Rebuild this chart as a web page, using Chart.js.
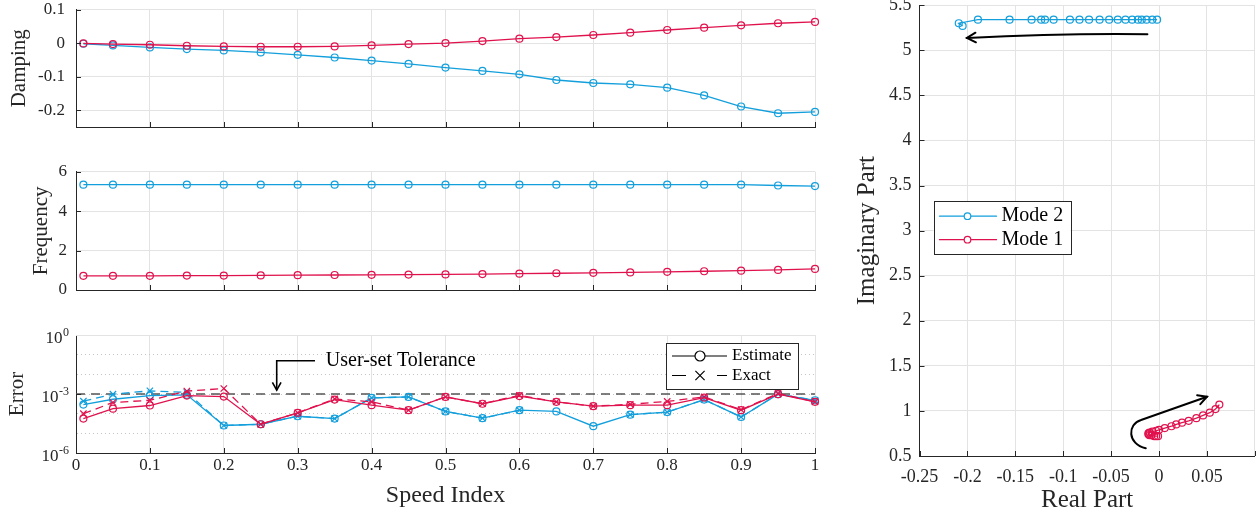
<!DOCTYPE html>
<html><head><meta charset="utf-8">
<script src="https://cdn.jsdelivr.net/npm/chart.js@4.4.1/dist/chart.umd.min.js"></script>
<style>
html,body{margin:0;padding:0;background:#fff;}
body{width:1260px;height:516px;position:relative;overflow:hidden;}
canvas{position:absolute;}
</style></head><body>
<canvas id="cDamp" width="840" height="140" style="left:0;top:0"></canvas>
<canvas id="cFreq" width="840" height="160" style="left:0;top:140px"></canvas>
<canvas id="cErr" width="840" height="216" style="left:0;top:300px"></canvas>
<canvas id="cRoot" width="420" height="516" style="left:840px;top:0"></canvas>
<script>
// ---------------- DATA ----------------
const SPEED = [0.01,0.05,0.10,0.15,0.20,0.25,0.30,0.35,0.40,0.45,0.50,0.55,0.60,0.65,0.70,0.75,0.80,0.85,0.90,0.95,1.00];
const MODE1_DAMPING = [-0.001,-0.003,-0.005,-0.008,-0.010,-0.011,-0.011,-0.010,-0.007,-0.003,0.000,0.006,0.013,0.018,0.024,0.031,0.039,0.046,0.053,0.059,0.063];
const MODE2_DAMPING = [-0.002,-0.007,-0.013,-0.018,-0.022,-0.028,-0.035,-0.043,-0.052,-0.062,-0.073,-0.083,-0.093,-0.110,-0.119,-0.123,-0.133,-0.156,-0.189,-0.209,-0.205];
const MODE1_FREQ = [0.72,0.72,0.72,0.73,0.73,0.74,0.75,0.76,0.77,0.78,0.79,0.81,0.83,0.85,0.87,0.89,0.92,0.95,0.98,1.02,1.07];
const MODE2_FREQ = [5.34,5.34,5.34,5.34,5.34,5.34,5.34,5.34,5.34,5.34,5.34,5.34,5.34,5.34,5.34,5.34,5.34,5.34,5.34,5.30,5.27];
const MODE1_ERR_EST   = [5.6e-5,1.8e-4,2.6e-4,8.3e-4,7.4e-4,2.9e-5,1.1e-4,5.2e-4,2.7e-4,1.5e-4,7.1e-4,3.2e-4,7.8e-4,4.0e-4,2.4e-4,2.7e-4,2.7e-4,6.6e-4,1.5e-4,9.8e-4,4.0e-4];
const MODE1_ERR_EXACT = [1.0e-4,3.7e-4,4.8e-4,1.4e-3,1.9e-3,2.9e-5,1.1e-4,5.6e-4,4.0e-4,1.5e-4,7.1e-4,3.2e-4,8.5e-4,4.0e-4,2.4e-4,3.0e-4,4.2e-4,7.1e-4,1.6e-4,1.07e-3,4.0e-4];
const MODE2_ERR_EST   = [2.9e-4,5.4e-4,8.3e-4,9.1e-4,2.5e-5,2.9e-5,7.4e-5,5.6e-5,6.3e-4,7.1e-4,1.3e-4,5.9e-5,1.5e-4,1.3e-4,2.3e-5,8.9e-5,1.2e-4,5.2e-4,6.8e-5,9.8e-4,4.8e-4];
const MODE2_ERR_EXACT = [4.3e-4,9.8e-4,1.45e-3,1.2e-3,2.5e-5,2.9e-5,7.4e-5,5.6e-5,6.3e-4,7.1e-4,1.3e-4,5.9e-5,1.5e-4,null,null,8.9e-5,1.2e-4,5.2e-4,6.8e-5,9.8e-4,4.8e-4];
const TOLERANCE = 1e-3;

const SPEED_TICKS = [0,0.1,0.2,0.3,0.4,0.5,0.6,0.7,0.8,0.9,1];
const SPEED_TICK_LABELS = ['0','0.1','0.2','0.3','0.4','0.5','0.6','0.7','0.8','0.9','1'];
const DAMPING_TICKS = [-0.2,-0.1,0,0.1];
const DAMPING_TICK_LABELS = ['-0.2','-0.1','0','0.1'];
const FREQ_TICKS = [0,2,4,6];
const FREQ_TICK_LABELS = ['0','2','4','6'];
const ERROR_TICKS = [1e-6,1e-5,1e-4,1e-3,1e-2,1e-1,1];
const ERROR_TICK_LABELS = ['10^-6','','','10^-3','','','10^0'];
const ERROR_MAJOR = [1e-6,1e-3,1];
const REAL_TICKS = [-0.25,-0.2,-0.15,-0.1,-0.05,0,0.05,0.1];
const REAL_TICK_LABELS = ['-0.25','-0.2','-0.15','-0.1','-0.05','0','0.05',''];
const IMAG_TICKS = [0.5,1,1.5,2,2.5,3,3.5,4,4.5,5,5.5];
const IMAG_TICK_LABELS = ['0.5','1','1.5','2','2.5','3','3.5','4','4.5','5','5.5'];

// ---------------- STYLE ----------------
const FONT = "'Liberation Serif', 'Times New Roman', serif";
const INK = '#262626';
const GRID = '#e3e3e3';
const DOT = '#c4c4c4';
const BLUE = '#139fdc';
const RED = '#e0124d';
Chart.defaults.font.family = FONT;
Chart.defaults.color = INK;
Chart.defaults.animation = false;

const pts = (xs, ys) => xs.map((x, i) => ({x, y: ys[i]}));
const tickSetter = vals => s => { s.ticks = vals.map(v => ({value: v})); };
const sizeSetter = n => s => {
  if (s.isHorizontal()) s.height = n; else s.width = n;
  s.paddingTop = 0; s.paddingBottom = 0; s.paddingLeft = 0; s.paddingRight = 0;
};
const labelFrom = labels => (v, i) => labels[i] ?? '';

function modeLine(data, color) {
  return {data, borderColor: color, borderWidth: 1.3, pointStyle: 'circle', pointRadius: 3.5,
    pointBorderWidth: 1.2, pointBorderColor: color, pointBackgroundColor: 'rgba(0,0,0,0)',
    tension: 0, clip: false, fill: false};
}

const inwardTicks = {
  id: 'inwardTicks',
  afterDraw(chart, args, opts) {
    const {ctx, chartArea: a, scales} = chart;
    const L = 5;
    ctx.save(); ctx.strokeStyle = INK; ctx.lineWidth = 1;
    ctx.beginPath();
    scales.x.ticks.forEach(t => {
      const p = Math.round(scales.x.getPixelForValue(t.value)) + 0.5;
      ctx.moveTo(p, a.bottom); ctx.lineTo(p, a.bottom - L);
    });
    scales.y.ticks.forEach(t => {
      if (opts.yMajor && !opts.yMajor.includes(t.value)) return;
      const p = Math.round(scales.y.getPixelForValue(t.value)) + 0.5;
      ctx.moveTo(a.left, p); ctx.lineTo(a.left + L, p);
    });
    ctx.stroke(); ctx.restore();
  }
};

function arrowHead(ctx, x, y, ang, size) {
  ctx.beginPath();
  ctx.moveTo(x - size * Math.cos(ang - 0.5), y - size * Math.sin(ang - 0.5));
  ctx.lineTo(x, y);
  ctx.lineTo(x - size * Math.cos(ang + 0.5), y - size * Math.sin(ang + 0.5));
  ctx.stroke();
}
function drawMarker(ctx, kind, x, y, r, color) {
  ctx.save(); ctx.strokeStyle = color; ctx.lineWidth = 1.2; ctx.beginPath();
  if (kind === 'circle') { ctx.arc(x, y, r, 0, Math.PI * 2); }
  else { const d = r * 0.7071; ctx.moveTo(x - d, y - d); ctx.lineTo(x + d, y + d); ctx.moveTo(x + d, y - d); ctx.lineTo(x - d, y + d); }
  ctx.stroke(); ctx.restore();
}

const baseScaleX = (height, showLabels) => ({
  type: 'linear', min: 0, max: 1, afterBuildTicks: tickSetter(SPEED_TICKS), afterFit: sizeSetter(height),
  ticks: {display: showLabels, callback: labelFrom(SPEED_TICK_LABELS), padding: 2, color: INK, font: {size: 17}, maxRotation: 0, autoSkip: false},
  grid: {color: GRID, drawTicks: false, lineWidth: 1}, border: {color: INK, width: 1}
});

// ---------------- DAMPING ----------------
new Chart(document.getElementById('cDamp'), {
  type: 'line',
  data: {datasets: [modeLine(pts(SPEED, MODE1_DAMPING), RED), modeLine(pts(SPEED, MODE2_DAMPING), BLUE)]},
  options: {
    responsive: false, events: [],
    layout: {padding: {left: 0, right: 25, top: 9.5, bottom: 0}},
    plugins: {legend: {display: false}, tooltip: {enabled: false}},
    scales: {
      x: baseScaleX(13, false),
      y: {type: 'linear', min: -0.25, max: 0.1, afterBuildTicks: tickSetter(DAMPING_TICKS), afterFit: sizeSetter(76),
        ticks: {callback: labelFrom(DAMPING_TICK_LABELS), padding: 11, color: INK, font: {size: 17}},
        grid: {color: GRID, drawTicks: false}, border: {color: INK},
        title: {display: true, text: 'Damping', color: INK, font: {size: 21}, padding: {top: 7, bottom: 0}}}
    }
  },
  plugins: [inwardTicks]
});

// ---------------- FREQUENCY ----------------
new Chart(document.getElementById('cFreq'), {
  type: 'line',
  data: {datasets: [modeLine(pts(SPEED, MODE1_FREQ), RED), modeLine(pts(SPEED, MODE2_FREQ), BLUE)]},
  options: {
    responsive: false, events: [],
    layout: {padding: {left: 0, right: 25, top: 31.7, bottom: 0}},
    plugins: {legend: {display: false}, tooltip: {enabled: false}},
    scales: {
      x: baseScaleX(10, false),
      y: {type: 'linear', min: 0, max: 6, afterBuildTicks: tickSetter(FREQ_TICKS), afterFit: sizeSetter(76),
        ticks: {callback: labelFrom(FREQ_TICK_LABELS), padding: 9, color: INK, font: {size: 17}},
        grid: {color: GRID, drawTicks: false}, border: {color: INK},
        title: {display: true, text: 'Frequency', color: INK, font: {size: 21}, padding: {top: 29, bottom: 0}}}
    }
  },
  plugins: [inwardTicks]
});

// ---------------- ERROR ----------------
const ERR_ANNOT = {arrowStartX: 0.3234, arrowCornerX: 0.2716, arrowY: 0.0489, arrowTipY: 0.00156, textX: 0.338, textY: 0.0489, text: 'User-set Tolerance'};
const errDecor = {
  id: 'errDecor',
  afterDraw(chart) {
    const {ctx, chartArea: a, scales: {x, y}} = chart;
    ctx.save();
    ctx.strokeStyle = GRID; ctx.lineWidth = 1; ctx.beginPath();
    ctx.moveTo(a.left, Math.round(a.top) + 0.5); ctx.lineTo(a.right, Math.round(a.top) + 0.5); ctx.stroke();
    ctx.fillStyle = INK; ctx.textAlign = 'right'; ctx.textBaseline = 'alphabetic';
    ERROR_TICKS.forEach((v, i) => {
      const lab = ERROR_TICK_LABELS[i]; if (!lab) return;
      const [base, exp] = lab.split('^');
      const py = y.getPixelForValue(v);
      const xr = a.left - 7;
      ctx.font = `12px ${FONT}`; const we = ctx.measureText(exp).width;
      ctx.fillText(exp, xr, py + 0.5);
      ctx.font = `17px ${FONT}`; ctx.fillText(base, xr - we - 0.5, py + 8);
    });
    const ay = y.getPixelForValue(ERR_ANNOT.arrowY);
    const ax0 = x.getPixelForValue(ERR_ANNOT.arrowStartX), ax1 = x.getPixelForValue(ERR_ANNOT.arrowCornerX);
    const tipY = y.getPixelForValue(ERR_ANNOT.arrowTipY);
    ctx.strokeStyle = '#000'; ctx.lineWidth = 1.6; ctx.beginPath();
    ctx.moveTo(ax0, ay); ctx.lineTo(ax1, ay); ctx.lineTo(ax1, tipY); ctx.stroke();
    arrowHead(ctx, ax1, tipY, Math.PI / 2, 9);
    ctx.fillStyle = '#000'; ctx.textAlign = 'left'; ctx.textBaseline = 'middle';
    ctx.font = `20px ${FONT}`;
    ctx.fillText(ERR_ANNOT.text, x.getPixelForValue(ERR_ANNOT.textX), y.getPixelForValue(ERR_ANNOT.textY));
    const bw = 132, bh = 46, bx = a.right - 17 - bw, by = a.top + 8;
    ctx.fillStyle = '#fff'; ctx.fillRect(bx, by, bw, bh);
    ctx.strokeStyle = INK; ctx.lineWidth = 1; ctx.strokeRect(Math.round(bx) + 0.5, Math.round(by) + 0.5, bw, bh);
    const lx0 = bx + 6, lx1 = bx + 61, mx = bx + 34;
    const y1 = by + 13, y2 = by + 32.5;
    ctx.strokeStyle = '#000'; ctx.lineWidth = 1.1; ctx.beginPath();
    ctx.moveTo(lx0, y1); ctx.lineTo(mx - 5, y1); ctx.moveTo(mx + 5, y1); ctx.lineTo(lx1, y1);
    ctx.moveTo(lx0, y2); ctx.lineTo(lx0 + 14, y2); ctx.moveTo(lx1 - 10, y2); ctx.lineTo(lx1, y2);
    ctx.stroke();
    drawMarker(ctx, 'circle', mx, y1, 5, '#000');
    drawMarker(ctx, 'cross', mx, y2, 6.5, '#000');
    ctx.fillStyle = '#000'; ctx.font = `17px ${FONT}`; ctx.textBaseline = 'middle';
    ctx.fillText('Estimate', bx + 66, y1);
    ctx.fillText('Exact', bx + 66, y2);
    ctx.restore();
  }
};
function errLine(vals, color, exact) {
  return {data: pts(SPEED, vals), borderColor: color, borderWidth: 1.3, borderDash: exact ? [8, 5] : [],
    pointStyle: exact ? 'crossRot' : 'circle', pointRadius: exact ? 4.5 : 3.5, pointBorderWidth: 1.2,
    pointBorderColor: color, pointBackgroundColor: 'rgba(0,0,0,0)', spanGaps: false, clip: false, tension: 0};
}
new Chart(document.getElementById('cErr'), {
  type: 'line',
  data: {datasets: [
    errLine(MODE1_ERR_EXACT, RED, true),
    errLine(MODE1_ERR_EST, RED, false),
    errLine(MODE2_ERR_EXACT, BLUE, true),
    errLine(MODE2_ERR_EST, BLUE, false),
    {data: [{x: 0, y: TOLERANCE}, {x: 1, y: TOLERANCE}], borderColor: '#555', borderWidth: 1.7, borderDash: [9, 6], pointRadius: 0, clip: false}
  ]},
  options: {
    responsive: false, events: [],
    layout: {padding: {left: 0, right: 25, top: 35, bottom: 0}},
    plugins: {legend: {display: false}, tooltip: {enabled: false}, inwardTicks: {yMajor: ERROR_MAJOR}},
    scales: {
      x: Object.assign(baseScaleX(63, true), {
        title: {display: true, text: 'Speed Index', color: INK, font: {size: 24}, padding: {top: 0, bottom: 6}}}),
      y: {type: 'logarithmic', min: 1e-6, max: 1, afterBuildTicks: tickSetter(ERROR_TICKS), afterFit: sizeSetter(76),
        ticks: {display: false, callback: () => ''},
        grid: {color: DOT, drawTicks: false}, border: {color: INK, dash: [1, 3]},
        title: {display: true, text: 'Error', color: INK, font: {size: 21}, padding: {top: 5, bottom: 0}}}
    }
  },
  plugins: [inwardTicks, errDecor]
});

// ---------------- ROOT LOCUS ----------------
const ROOT_ARROWS = {
  top: [[-0.0121, 5.178], [-0.10, 5.19], [-0.2005, 5.137]],
  bottom: [[-0.0138, 0.585], [-0.0332, 0.633], [-0.0332, 0.855], [-0.0187, 0.899], [0.0501, 1.157]]
};
const rootDecor = {
  id: 'rootDecor',
  afterDraw(chart) {
    const {ctx, chartArea: a, scales: {x, y}} = chart;
    const P = p => [x.getPixelForValue(p[0]), y.getPixelForValue(p[1])];
    ctx.save();
    ctx.strokeStyle = '#000'; ctx.lineWidth = 2; ctx.lineCap = 'round';
    const [t0, t1, t2] = ROOT_ARROWS.top.map(P);
    ctx.beginPath(); ctx.moveTo(...t0); ctx.quadraticCurveTo(...t1, ...t2); ctx.stroke();
    arrowHead(ctx, t2[0], t2[1], Math.atan2(t2[1] - t1[1], t2[0] - t1[0]), 10);
    const [b0, b1, b2, b3, b4] = ROOT_ARROWS.bottom.map(P);
    ctx.beginPath(); ctx.moveTo(...b0); ctx.bezierCurveTo(...b1, ...b2, ...b3); ctx.lineTo(...b4); ctx.stroke();
    arrowHead(ctx, b4[0], b4[1], Math.atan2(b4[1] - b3[1], b4[0] - b3[0]), 10);
    const bx = a.left + 14, by = a.top + 196, bw = 137, bh = 53;
    ctx.fillStyle = '#fff'; ctx.fillRect(bx, by, bw, bh);
    ctx.strokeStyle = INK; ctx.lineWidth = 1; ctx.strokeRect(Math.round(bx) + 0.5, Math.round(by) + 0.5, bw, bh);
    const entries = [['Mode 2', BLUE, by + 15], ['Mode 1', RED, by + 38.5]];
    entries.forEach(([label, color, yy]) => {
      ctx.strokeStyle = color; ctx.lineWidth = 1.3; ctx.beginPath();
      ctx.moveTo(bx + 6, yy); ctx.lineTo(bx + 63, yy); ctx.stroke();
      ctx.fillStyle = '#fff'; ctx.beginPath(); ctx.arc(bx + 34, yy, 3.3, 0, Math.PI * 2); ctx.fill();
      drawMarker(ctx, 'circle', bx + 34, yy, 3.3, color);
      ctx.fillStyle = '#000'; ctx.font = `20px ${FONT}`; ctx.textAlign = 'left'; ctx.textBaseline = 'middle';
      ctx.fillText(label, bx + 68, yy);
    });
    ctx.restore();
  }
};
new Chart(document.getElementById('cRoot'), {
  type: 'line',
  data: {datasets: [modeLine(pts(MODE1_DAMPING, MODE1_FREQ), RED), modeLine(pts(MODE2_DAMPING, MODE2_FREQ), BLUE)]},
  options: {
    responsive: false, events: [],
    layout: {padding: {left: 0, right: 3.6, top: 5, bottom: 0}},
    plugins: {legend: {display: false}, tooltip: {enabled: false}},
    scales: {
      x: {type: 'linear', min: -0.25, max: 0.1, afterBuildTicks: tickSetter(REAL_TICKS), afterFit: sizeSetter(60),
        ticks: {callback: labelFrom(REAL_TICK_LABELS), padding: 10, color: INK, font: {size: 18}, maxRotation: 0, autoSkip: false},
        grid: {color: GRID, drawTicks: false}, border: {color: INK},
        title: {display: true, text: 'Real Part', color: INK, font: {size: 25}, padding: {top: 0, bottom: 1}}},
      y: {type: 'linear', min: 0.5, max: 5.5, afterBuildTicks: tickSetter(IMAG_TICKS), afterFit: sizeSetter(79.5),
        ticks: {callback: labelFrom(IMAG_TICK_LABELS), padding: 8, color: INK, font: {size: 18}},
        grid: {color: GRID, drawTicks: false}, border: {color: INK},
        title: {display: true, text: 'Imaginary Part', color: INK, font: {size: 25}, padding: {top: 12, bottom: 0}}}
    }
  },
  plugins: [inwardTicks, rootDecor]
});
</script>
</body></html>
